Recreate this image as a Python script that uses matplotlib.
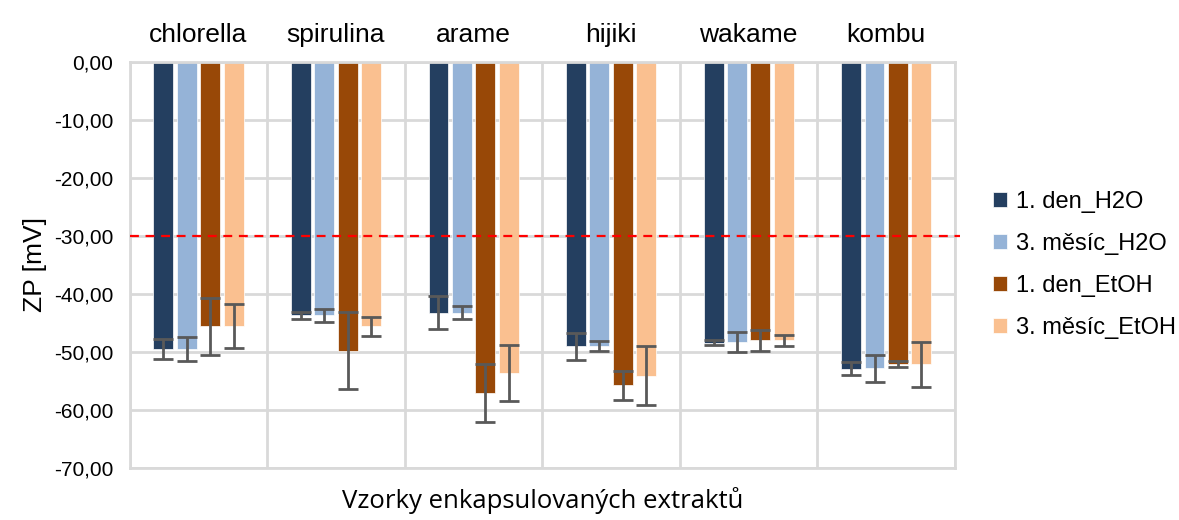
import numpy as np
import matplotlib
matplotlib.use("Agg")
import matplotlib.pyplot as plt
from matplotlib.ticker import FuncFormatter

plt.rcParams['font.family'] = ['Liberation Sans', 'DejaVu Sans']

# data
samples = ['chlorella', 'spirulina', 'arame', 'hijiki', 'wakame', 'kombu']
series = ['1. den_H2O', '3. měsíc_H2O', '1. den_EtOH', '3. měsíc_EtOH']

den1_h2o = [-49.5, -43.7, -43.2, -49.0, -48.4, -52.9]
mes3_h2o = [-49.5, -43.7, -43.2, -49.0, -48.3, -52.8]
den1_etoh = [-45.6, -49.8, -57.1, -55.7, -48.0, -52.1]
mes3_etoh = [-45.6, -45.6, -53.6, -54.1, -48.0, -52.1]

err_den1_h2o = [1.7, 0.65, 2.8, 2.3, 0.4, 1.1]
err_mes3_h2o = [2.1, 1.1, 1.15, 0.9, 1.7, 2.3]
err_den1_etoh = [4.95, 6.65, 5.05, 2.5, 1.8, 0.55]
err_mes3_etoh = [3.8, 1.65, 4.8, 5.05, 1.0, 3.9]

threshold = -30

values = [den1_h2o, mes3_h2o, den1_etoh, mes3_etoh]
errors = [err_den1_h2o, err_mes3_h2o, err_den1_etoh, err_mes3_etoh]
colors = ['#243f60', '#95b3d7', '#984807', '#fac090']

fig = plt.figure(figsize=(11.79, 5.2), dpi=100)
ax = fig.add_axes([0.110, 0.100, 0.700, 0.781])

x = np.arange(len(samples))
step = 0.17
width = 0.145
for i, (vals, errs, col, name) in enumerate(zip(values, errors, colors, series)):
    pos = x + (i - 1.5) * step
    ax.bar(pos, vals, width, color=col, label=name, edgecolor='white', linewidth=0.5, zorder=2)
    ax.errorbar(pos, vals, yerr=errs, fmt='none', ecolor='#595959', elinewidth=2,
                capsize=7.5, capthick=2, zorder=3)

ax.axhline(threshold, xmin=0, xmax=1.006, color='#ff0000', linestyle=(0, (4, 3)),
           linewidth=1.6, clip_on=False, zorder=4)

ax.set_xlim(-0.5, len(samples) - 0.5)
ax.set_ylim(-70, 0)
ax.set_yticks(np.arange(-70, 1, 10))
ax.yaxis.set_major_formatter(FuncFormatter(lambda v, p: f'{v:.2f}'.replace('.', ',')))

ax.set_xticks(x)
ax.set_xticklabels(samples)
ax.xaxis.tick_top()
ax.set_xticks(np.arange(-0.5, len(samples), 1), minor=True)
ax.grid(True, which='minor', axis='x', color='#d9d9d9', linewidth=2, zorder=0)
ax.grid(True, which='major', axis='y', color='#d9d9d9', linewidth=2, zorder=0)
ax.tick_params(axis='x', which='both', length=0, labelsize=19, pad=11)
ax.tick_params(axis='y', length=0, labelsize=15, pad=12)
ax.set_axisbelow(True)

for s in ax.spines.values():
    s.set_color('#d9d9d9')
    s.set_linewidth(2)

ax.set_ylabel('ZP [mV]', fontsize=19, labelpad=5)
ax.set_xlabel('Vzorky enkapsulovaných extraktů', fontsize=18.5, labelpad=14,
              family=['Open Sans', 'DejaVu Sans'])

ax.legend(loc='center left', bbox_to_anchor=(1.02, 0.5), frameon=False, fontsize=17,
          handlelength=0.6, handleheight=0.6, handletextpad=0.4, labelspacing=0.85)

fig.savefig('out.png', dpi=100)
